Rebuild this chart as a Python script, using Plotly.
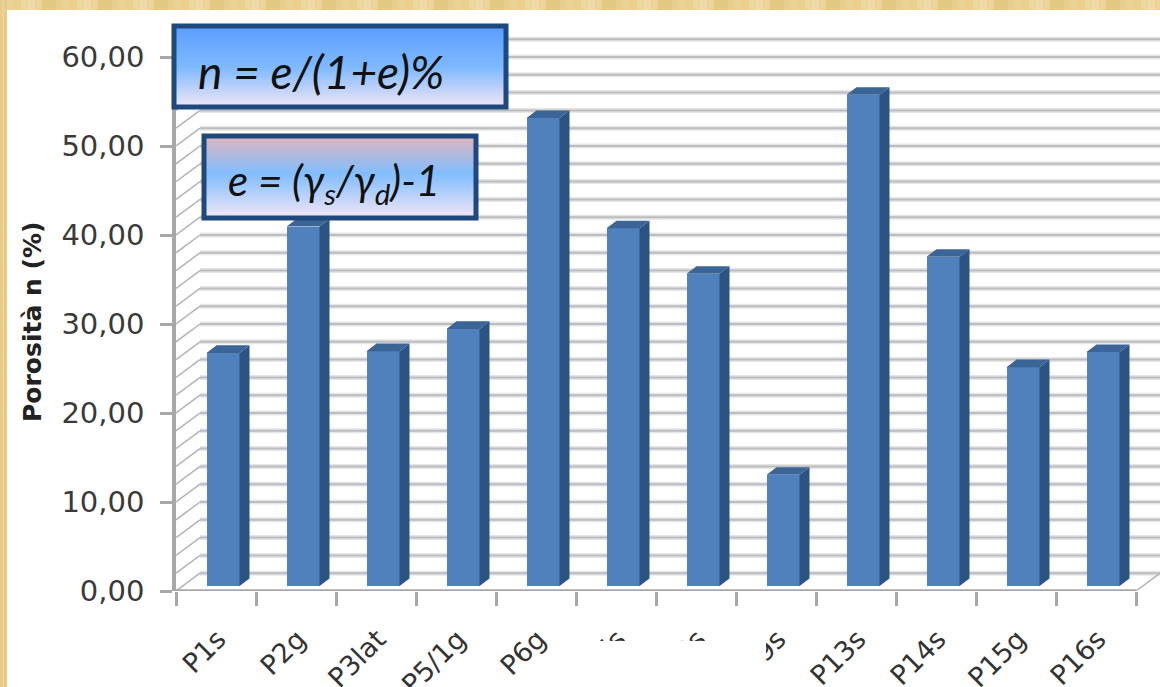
import plotly.graph_objects as go

# Porosity of each soil sample, in percent
samples = ["P1s", "P2g", "P3lat", "P5/1g", "P6g", "P7s", "P8s", "P9s", "P13s", "P14s", "P15g", "P16s"]
porosity = [26.2, 40.4, 26.4, 28.9, 52.6, 40.2, 35.1, 12.5, 55.2, 37.0, 24.6, 26.3]
y_ticks = [0, 10, 20, 30, 40, 50, 60]
y_labels = ["0,00", "10,00", "20,00", "30,00", "40,00", "50,00", "60,00"]

W, H = 1160, 687
LEFT, BOTTOM, TOP = 176, 591, 30
PX_PER_CAT = 80.0
PX_PER_UNIT = 8.9

xmin = -0.5
xmax = xmin + (W - LEFT) / PX_PER_CAT
ymax = (BOTTOM - TOP) / PX_PER_UNIT

# Pseudo-3D geometry, expressed in axis units
WALL_DX = 24 / PX_PER_CAT
WALL_DY = 2.0
BAR_W = 33 / PX_PER_CAT
BAR_SHIFT = 7 / PX_PER_CAT
BAR_BASE = 0.55
SIDE_DX = 10 / PX_PER_CAT
SIDE_DY = 0.85

FRONT = "#4F81BD"
SIDE = "#2F5380"
CAP = "#3A6596"
GRID = "#BDBDBD"
GRID_HALO = "#E6E6E6"
AXIS = "#A8A8A8"
FONT = "DejaVu Sans"


def px(x):
    return (x - LEFT) / (W - LEFT)


def py(y):
    return (BOTTOM - y) / (BOTTOM - TOP)


def rect(x0, y0, x1, y1, color="#FFFFFF", layer="above"):
    return dict(type="rect", xref="paper", yref="paper", x0=px(x0), x1=px(x1), y0=py(y0), y1=py(y1),
                fillcolor=color, line_width=0, layer=layer)


def mix(a, b, t):
    return tuple(a[i] + (b[i] - a[i]) * t for i in range(3))


def gradient_box(x0, y0, x1, y1, stops, border=5):
    """Vertical multi-stop gradient, built from thin strips, with a dark frame."""
    out = []
    y = y0
    while y < y1:
        t = (y - y0) / (y1 - y0)
        for (p0, c0), (p1, c1) in zip(stops, stops[1:]):
            if p0 <= t <= p1:
                c = mix(c0, c1, (t - p0) / (p1 - p0))
                break
        out.append(rect(x0, y, x1, min(y + 2, y1), "rgb(%d,%d,%d)" % c))
        y += 2
    out.append(dict(type="rect", xref="paper", yref="paper", x0=px(x0), x1=px(x1), y0=py(y0), y1=py(y1),
                    fillcolor="rgba(0,0,0,0)", line=dict(color="#1F497D", width=border), layer="above"))
    return out


shapes = []

# Back wall gridlines and the slanted lines on the side wall
level = 0
while level <= 60:
    y_back = level + WALL_DY
    shapes.append(dict(type="line", xref="x", yref="y", x0=xmin + WALL_DX, x1=xmax, y0=y_back, y1=y_back,
                       line=dict(color=GRID_HALO, width=5), layer="below"))
    shapes.append(dict(type="line", xref="x", yref="y", x0=xmin + WALL_DX, x1=xmax, y0=y_back, y1=y_back,
                       line=dict(color=GRID, width=2), layer="below"))
    shapes.append(dict(type="line", xref="x", yref="y", x0=xmin, x1=xmin + WALL_DX, y0=level, y1=y_back,
                       line=dict(color="#B4B4B4", width=1.5), layer="below"))
    level += 2

# Floor: front edge and right edge
shapes.append(dict(type="line", xref="x", yref="y", x0=xmin, x1=11.5, y0=0, y1=0,
                   line=dict(color=AXIS, width=3.5), layer="below"))
shapes.append(dict(type="line", xref="x", yref="y", x0=11.5, x1=11.5 + WALL_DX, y0=0, y1=WALL_DY,
                   line=dict(color="#B4B4B4", width=1.5), layer="below"))

# Tan paper frame along the top and left edges, with faint vertical streaks
tan = ["#E8CF90", "#EDD7A0", "#E4C985", "#EAD296", "#F0DBA6", "#E2C882", "#E9D08F", "#EDD59A"]
for i in range(0, W, 7):
    shapes.append(rect(i, 0, i + 7, 10, tan[(i * 3 // 7) % len(tan)]))
shapes.append(rect(0, 0, 7, H, "#E6CC8C"))
shapes.append(rect(2, 0, 4, H, "#EBD49A"))

# White patch hiding part of the axis labels
shapes.append(rect(556, 641, 765, H))
shapes.append(rect(762, 641, 766, 658))

# Formula boxes
shapes += gradient_box(174, 26, 506, 107,
                       [(0, (90, 158, 255)), (0.5, (128, 186, 255)), (1, (245, 232, 245))])
shapes += gradient_box(204, 136, 476, 218,
                       [(0, (220, 182, 190)), (0.45, (130, 190, 255)), (1, (246, 232, 246))])

# Side and top faces of the bars, computed from the values
side_x, side_y, cap_x, cap_y = [], [], [], []
for i, v in enumerate(porosity):
    left = i + BAR_SHIFT - BAR_W / 2
    right = i + BAR_SHIFT + BAR_W / 2
    top = BAR_BASE + v
    side_x += [right, right + SIDE_DX, right + SIDE_DX, right, right, None]
    side_y += [BAR_BASE, BAR_BASE + SIDE_DY, top + SIDE_DY, top, BAR_BASE, None]
    cap_x += [left, right, right + SIDE_DX, left + SIDE_DX, left, None]
    cap_y += [top, top, top + SIDE_DY, top + SIDE_DY, top, None]

fig = go.Figure()
fig.add_trace(go.Scatter(x=side_x, y=side_y, mode="lines", fill="toself", fillcolor=SIDE,
                         line=dict(width=0, color=SIDE), hoverinfo="skip", showlegend=False))
fig.add_trace(go.Scatter(x=cap_x, y=cap_y, mode="lines", fill="toself", fillcolor=CAP,
                         line=dict(width=0, color=CAP), hoverinfo="skip", showlegend=False))
fig.add_trace(go.Bar(x=list(range(len(samples))), y=porosity, base=BAR_BASE,
                     width=BAR_W, offset=BAR_SHIFT - BAR_W / 2,
                     marker=dict(color=FRONT, line_width=0), showlegend=False))

annotations = [
    dict(xref="paper", yref="paper", x=px(32), y=py(322), xanchor="center", yanchor="middle",
         text="<b>Porosità n (%)</b>", textangle=-90,
         showarrow=False, font=dict(family=FONT, size=25, color="#222222")),
    dict(xref="paper", yref="paper", x=px(196), y=py(72), xanchor="left", yanchor="middle", showarrow=False,
         text="<i>n = e/(1+e)%</i>", font=dict(family="Lato", size=46, color="#111111")),
    dict(xref="paper", yref="paper", x=px(226), y=py(183), xanchor="left", yanchor="middle", showarrow=False,
         text="<i>e = (γ<sub>s</sub>/γ<sub>d</sub>)-1</i>", font=dict(family="Lato", size=42, color="#111111")),
]

fig.update_layout(
    width=W, height=H,
    margin=dict(l=LEFT, r=0, t=TOP, b=H - BOTTOM, autoexpand=False),
    paper_bgcolor="#FFFFFF", plot_bgcolor="rgba(0,0,0,0)",
    bargap=0, shapes=shapes, annotations=annotations, showlegend=False,
    xaxis=dict(
        range=[xmin, xmax], tickmode="array", tickvals=list(range(len(samples))), ticktext=samples,
        tickangle=-45, tickfont=dict(family=FONT, size=27, color="#333333"),
        ticks="", showgrid=False, zeroline=False, showline=False,
        ticklabelshift=2, ticklabelstandoff=26,
        minor=dict(tickmode="array", tickvals=[i - 0.5 for i in range(len(samples) + 1)],
                   ticks="outside", ticklen=14, tickwidth=2.5, tickcolor=AXIS, showgrid=False),
    ),
    yaxis=dict(
        range=[0, ymax], tickmode="array", tickvals=y_ticks, ticktext=y_labels,
        tickfont=dict(family=FONT, size=29, color="#3A3A3A"),
        ticks="outside", ticklen=12, tickwidth=2.5, tickcolor=AXIS,
        showgrid=False, zeroline=False, showline=True, linecolor=AXIS, linewidth=3.5,
        ticklabelstandoff=10,
    ),
)

fig.write_html("out.html")
